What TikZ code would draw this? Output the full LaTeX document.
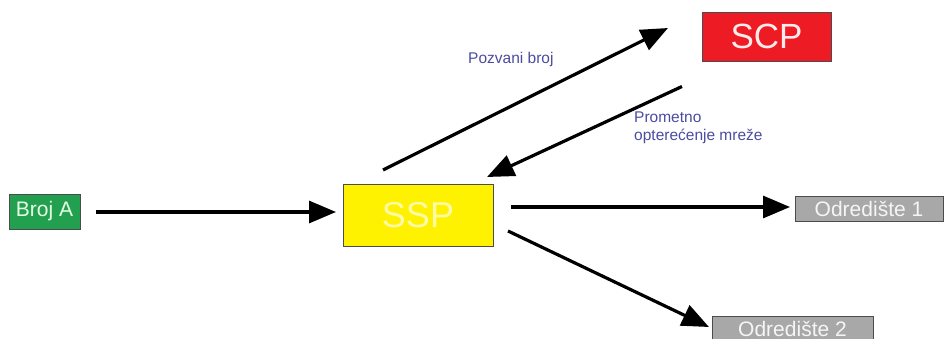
\documentclass[tikz,border=0pt]{standalone}
\usepackage{fontspec}
\setmainfont{Liberation Sans}
\usetikzlibrary{arrows.meta}
\definecolor{bgreen}{HTML}{22A050}
\definecolor{byellow}{HTML}{FFF200}
\definecolor{bred}{HTML}{ED1C24}
\definecolor{bgray}{HTML}{A8A8A8}
\definecolor{lblue}{HTML}{4B4BA0}
\tikzset{
  box/.style={draw=black!70, line width=0.8pt, inner sep=0pt, outer sep=0pt},
  conn/.style={line width=3.2pt, -{Triangle[length=27pt,width=22pt]}},
  lbl/.style={text=lblue, font=\fontsize{15.5}{18}\selectfont, inner sep=0pt}
}
\begin{document}
\begin{tikzpicture}[x=1pt,y=1pt]
\useasboundingbox (0,0) rectangle (945,338);
\begin{scope}
\clip (0,0) rectangle (945,338);
\node[box, fill=bgreen, minimum width=71pt, minimum height=35pt, text=green!10!white, font=\fontsize{21}{24}\selectfont] (brojA) at (44.5,126.5) {Broj A};
\node[box, fill=byellow, minimum width=150pt, minimum height=62pt, text=yellow!35!white, font=\fontsize{36}{40}\selectfont] (ssp) at (418,123) {SSP};
\node[box, fill=bred, minimum width=129pt, minimum height=49pt, text=red!8!white, font=\fontsize{35}{38}\selectfont] (scp) at (766.5,301.5) {SCP};
\node[box, fill=bgray, minimum width=148pt, minimum height=25pt, text=gray!8!white, font=\fontsize{21}{24}\selectfont] (od1) at (869,129.5) {Odredište 1};
\node[box, fill=bgray, minimum width=161pt, minimum height=25pt, text=gray!8!white, font=\fontsize{21}{24}\selectfont, anchor=north west] (od2) at (712,22) {Odredište 2};
\end{scope}
\node[lbl, anchor=base west] (poz) at (468,274) {Pozvani broj};
\node[lbl, anchor=base west, align=left] (prom) at (634,197) {Prometno\\opterećenje mreže};
\draw[conn] ([xshift=16pt,yshift=-0.5pt]brojA.east) -- ([xshift=-7pt,yshift=3pt]ssp.west);
\draw[conn] ([xshift=-35pt,yshift=14pt]ssp.north) -- ([xshift=-34pt,yshift=8.5pt]scp.west);
\draw[conn] ([xshift=-20pt,yshift=-25.5pt]scp.south west) -- ([xshift=-6pt,yshift=7pt]ssp.north east);
\draw[conn] ([xshift=18pt,yshift=8pt]ssp.east) -- ([xshift=-5pt,yshift=1.5pt]od1.west);
\draw[conn] ([xshift=15pt,yshift=15pt]ssp.south east) -- ([xshift=-3pt,yshift=-11pt]od2.north west);
\end{tikzpicture}
\end{document}
